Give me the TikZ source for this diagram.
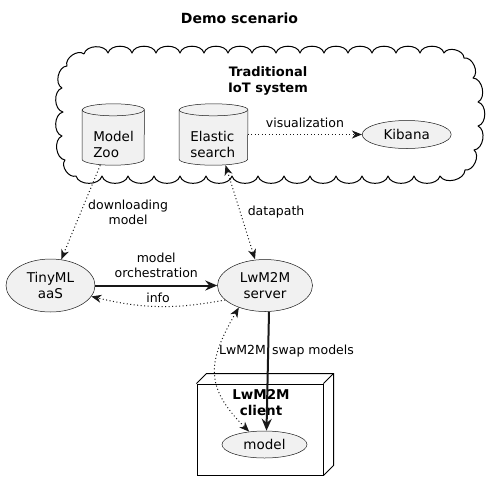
\documentclass[tikz,border=0pt]{standalone}
\usepackage{fontspec}
\setmainfont{DejaVu Sans}
\usetikzlibrary{shapes.geometric, arrows.meta, positioning}
\definecolor{boxgray}{HTML}{F1F1F1}
\definecolor{linegray}{HTML}{181818}
\newcommand{\nodefont}{\fontsize{13.5}{16}\selectfont}
\newcommand{\lblfont}{\fontsize{12.5}{15}\selectfont}
\newcommand{\headfont}{\fontsize{13}{16.5}\selectfont\bfseries}
\tikzstyle{usecase} = [ellipse, draw=linegray, line width=0.5pt, fill=boxgray, inner sep=0pt, align=center, font=\nodefont]
\tikzstyle{dbbox} = [rectangle, minimum height=61pt, inner sep=0pt]
\tikzstyle{dbline} = [draw=linegray, line width=0.5pt, fill=boxgray]
\tikzstyle{dbtext} = [align=left, inner sep=0pt, anchor=west, font=\nodefont]
\tikzstyle{lbl} = [align=center, inner sep=2pt, font=\lblfont]
\tikzstyle{arrow} = [line width=2pt, draw=linegray, -{Stealth[length=12pt, width=10pt, inset=4pt]}]
\tikzstyle{dotarrow} = [line width=1pt, draw=linegray, dash pattern=on 1pt off 2.5pt, -{Stealth[length=10pt, width=8pt, inset=3pt]}]
\tikzstyle{cloudline} = [line width=1pt, draw=black, line join=round]
% database outline round an empty box
\newcommand{\dbshape}[2]{%
  \filldraw[dbline] ([yshift=-6pt]#1.north west) -- ([yshift=6pt]#1.south west)
    arc[start angle=180, end angle=360, x radius=#2pt, y radius=6pt]
    -- ([yshift=-6pt]#1.north east)
    arc[start angle=0, end angle=180, x radius=#2pt, y radius=6pt] -- cycle;
  \draw[dbline, fill=none] ([yshift=-6pt]#1.north west)
    arc[start angle=180, end angle=360, x radius=#2pt, y radius=6pt];}

\begin{document}
\begin{tikzpicture}[x=1pt, y=-1pt]
    \useasboundingbox (0,0) rectangle (493,491);

    \node (title) at (239.5,18) [font=\fontsize{14}{16}\selectfont\bfseries] {Demo scenario};

    % Cloud
    \draw[cloudline] (84,54)
        \foreach \x in {108,132,...,444} { to[bend left=75] (\x,53) }
        to[bend left=75] (464,58) to[bend left=75] (473,78) to[bend left=75] (478,102)
        to[bend left=75] (478,126) to[bend left=75] (474,150) to[bend left=75] (465,170)
        \foreach \x in {440,414,...,76} { to[bend left=75] (\x,176) }
        to[bend left=75] (65,160) to[bend left=75] (62,136) to[bend left=75] (63,112)
        to[bend left=75] (62,88) to[bend left=75] (67,66) to[bend left=75] (84,54);
    \node (cloudlbl) at (268,81) [font=\headfont, align=center] {Traditional\\IoT system};

    % Databases
    \node (zoo) [dbbox, minimum width=62pt] at (113.25,134.5) {};
    \node (elastic) [dbbox, minimum width=68.5pt] at (213.5,134.5) {};
    \dbshape{zoo}{31}
    \dbshape{elastic}{34.25}
    \node (zoolbl) [dbtext] at ([xshift=11pt, yshift=-10pt]zoo.west) {Model\\Zoo};
    \node (elasticlbl) [dbtext] at ([xshift=11pt, yshift=-10pt]elastic.west) {Elastic\\search};
    \node (kibana) [usecase, minimum width=89pt, minimum height=28pt, right=114pt of elastic] {Kibana};

    % Services
    \node (tiny) [usecase, minimum width=89pt, minimum height=53pt] at (50.5,285.5) {TinyML\\aaS};
    \node (server) [usecase, minimum width=95pt, minimum height=52pt, right=122pt of tiny] {LwM2M\\server};

    % Client device
    \node (client) [draw, line width=1pt, minimum width=126pt, minimum height=91pt] at (260,429.5) {};
    \draw[line width=1pt] (client.north west) -- ++(10,-10) -- ([shift={(10,-10)}]client.north east)
        -- ([shift={(10,-10)}]client.south east) -- (client.south east);
    \draw[line width=1pt] (client.north east) -- ++(10,-10);
    \node (clientlbl) at (261,403) [font=\fontsize{13.5}{16}\selectfont\bfseries, align=center] {LwM2M\\client};
    \node (model) [usecase, minimum width=85pt, minimum height=27pt] at (264.5,444.5) {model};

    % ==== Arrows
    \draw [dotarrow] (elastic.east) -- (kibana.west) node[lbl, midway, yshift=12pt] {visualization};
    \draw [dotarrow] ([xshift=-13pt]zoo.south) -- (tiny) node[lbl, pos=0.5, anchor=west, xshift=5pt] {downloading\\model};
    \draw [dotarrow, {Stealth[length=10pt, width=8pt, inset=3pt]}-{Stealth[length=10pt, width=8pt, inset=3pt]}]
        ([xshift=12pt]elastic.south) -- ([xshift=-10pt]server.north)
        node[lbl, midway, anchor=west, xshift=5pt] {datapath};
    \draw [arrow] (tiny.east) -- (server.west) node[lbl, midway, yshift=20pt] {model\\orchestration};
    \draw [dotarrow] (server.200) to[bend left=12] node[lbl, midway, yshift=9pt] {info} (tiny.-15);
    \draw [arrow] ([xshift=4pt]server.south) -- ([xshift=2pt]model.north)
        node[lbl, pos=0.33, anchor=west, xshift=1pt] {swap models};
    \draw [dotarrow, {Stealth[length=10pt, width=8pt, inset=3pt]}-{Stealth[length=10pt, width=8pt, inset=3pt]}]
        (server.220) to[out=240, in=135, looseness=1.3]
        node[lbl, pos=0.3, anchor=west, inner sep=0pt] {LwM2M} (model.140);

\end{tikzpicture}
\end{document}
